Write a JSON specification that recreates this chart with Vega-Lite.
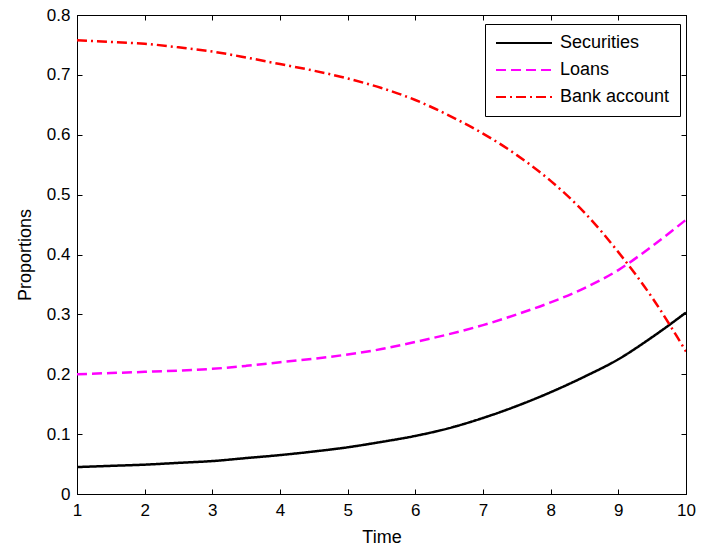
{
  "$schema": "https://vega.github.io/schema/vega-lite/v6.json",
  "width": 609,
  "height": 479,
  "autosize": {"type": "none"},
  "padding": {"left": 77, "top": 15, "right": 33, "bottom": 54},
  "background": "white",
  "config": {
    "font": "Liberation Sans",
    "view": {"stroke": "black", "strokeWidth": 1},
    "axis": {
      "grid": false,
      "domainColor": "black",
      "domainWidth": 1,
      "tickColor": "black",
      "tickWidth": 1,
      "tickSize": -5,
      "labelColor": "black",
      "labelFont": "Liberation Sans",
      "labelFontSize": 17,
      "titleFont": "Liberation Sans",
      "titleFontSize": 18,
      "titleFontWeight": "normal",
      "titleColor": "black"
    }
  },
  "data": {
    "values": [
      {"t": 1, "s": "Securities", "v": 0.045}, {"t": 1.5, "s": "Securities", "v": 0.047}, {"t": 2, "s": "Securities", "v": 0.049}, {"t": 2.5, "s": "Securities", "v": 0.052}, {"t": 3, "s": "Securities", "v": 0.055}, {"t": 3.5, "s": "Securities", "v": 0.060}, {"t": 4, "s": "Securities", "v": 0.065}, {"t": 4.5, "s": "Securities", "v": 0.071}, {"t": 5, "s": "Securities", "v": 0.078}, {"t": 5.5, "s": "Securities", "v": 0.087}, {"t": 6, "s": "Securities", "v": 0.097}, {"t": 6.5, "s": "Securities", "v": 0.110}, {"t": 7, "s": "Securities", "v": 0.127}, {"t": 7.5, "s": "Securities", "v": 0.147}, {"t": 8, "s": "Securities", "v": 0.170}, {"t": 8.5, "s": "Securities", "v": 0.196}, {"t": 9, "s": "Securities", "v": 0.225}, {"t": 9.5, "s": "Securities", "v": 0.262}, {"t": 10, "s": "Securities", "v": 0.303},
      {"t": 1, "s": "Loans", "v": 0.200}, {"t": 1.5, "s": "Loans", "v": 0.202}, {"t": 2, "s": "Loans", "v": 0.204}, {"t": 2.5, "s": "Loans", "v": 0.206}, {"t": 3, "s": "Loans", "v": 0.209}, {"t": 3.5, "s": "Loans", "v": 0.214}, {"t": 4, "s": "Loans", "v": 0.220}, {"t": 4.5, "s": "Loans", "v": 0.226}, {"t": 5, "s": "Loans", "v": 0.233}, {"t": 5.5, "s": "Loans", "v": 0.242}, {"t": 6, "s": "Loans", "v": 0.254}, {"t": 6.5, "s": "Loans", "v": 0.267}, {"t": 7, "s": "Loans", "v": 0.282}, {"t": 7.5, "s": "Loans", "v": 0.300}, {"t": 8, "s": "Loans", "v": 0.320}, {"t": 8.5, "s": "Loans", "v": 0.344}, {"t": 9, "s": "Loans", "v": 0.374}, {"t": 9.5, "s": "Loans", "v": 0.414}, {"t": 10, "s": "Loans", "v": 0.458},
      {"t": 1, "s": "Bank account", "v": 0.758}, {"t": 1.5, "s": "Bank account", "v": 0.755}, {"t": 2, "s": "Bank account", "v": 0.752}, {"t": 2.5, "s": "Bank account", "v": 0.746}, {"t": 3, "s": "Bank account", "v": 0.739}, {"t": 3.5, "s": "Bank account", "v": 0.729}, {"t": 4, "s": "Bank account", "v": 0.718}, {"t": 4.5, "s": "Bank account", "v": 0.707}, {"t": 5, "s": "Bank account", "v": 0.694}, {"t": 5.5, "s": "Bank account", "v": 0.678}, {"t": 6, "s": "Bank account", "v": 0.658}, {"t": 6.5, "s": "Bank account", "v": 0.632}, {"t": 7, "s": "Bank account", "v": 0.602}, {"t": 7.5, "s": "Bank account", "v": 0.566}, {"t": 8, "s": "Bank account", "v": 0.523}, {"t": 8.5, "s": "Bank account", "v": 0.470}, {"t": 9, "s": "Bank account", "v": 0.404}, {"t": 9.5, "s": "Bank account", "v": 0.328}, {"t": 10, "s": "Bank account", "v": 0.238}
    ]
  },
  "layer": [
    {
      "mark": {"type": "line", "strokeWidth": 2.5, "interpolate": "monotone", "clip": true},
      "encoding": {
        "x": {
          "field": "t", "type": "quantitative",
          "scale": {"domain": [1, 10], "nice": false, "zero": false},
          "axis": {"orient": "bottom", "title": "Time", "values": [1,2,3,4,5,6,7,8,9,10], "labelPadding": 13, "titlePadding": 10, "labelFlush": false}
        },
        "y": {
          "field": "v", "type": "quantitative",
          "scale": {"domain": [0, 0.8], "nice": false, "zero": false},
          "axis": {"orient": "left", "title": "Proportions", "format": "~g", "values": [0,0.1,0.2,0.3,0.4,0.5,0.6,0.7,0.8], "labelPadding": 12, "titlePadding": 12, "labelFlush": false}
        },
        "color": {
          "field": "s", "type": "nominal",
          "scale": {"domain": ["Securities", "Loans", "Bank account"], "range": ["#000000", "#ff00ff", "#ff0000"]},
          "legend": {
            "title": null,
            "orient": "none",
            "legendX": 408,
            "legendY": 9,
            "fillColor": "white",
            "strokeColor": "black",
            "padding": 10,
            "symbolType": "M-4,0H24",
            "symbolSize": 16,
            "symbolStrokeWidth": 2,
            "labelFontSize": 18,
            "labelFont": "Liberation Sans",
            "labelColor": "black",
            "labelOffset": 47,
            "rowPadding": 9,
            "labelLimit": 300
          }
        },
        "strokeDash": {
          "field": "s", "type": "nominal",
          "scale": {"domain": ["Securities", "Loans", "Bank account"], "range": [[1, 0], [10, 5], [10, 4, 2, 4]]},
          "legend": null
        }
      }
    },
    {
      "mark": {"type": "line", "strokeOpacity": 0},
      "encoding": {
        "x": {"field": "t", "type": "quantitative", "axis": {"orient": "top", "title": null, "labels": false, "values": [1,2,3,4,5,6,7,8,9,10]}},
        "y": {"field": "v", "type": "quantitative", "axis": {"orient": "right", "title": null, "labels": false, "values": [0,0.1,0.2,0.3,0.4,0.5,0.6,0.7,0.8]}},
        "detail": {"field": "s"}
      }
    }
  ]
}
